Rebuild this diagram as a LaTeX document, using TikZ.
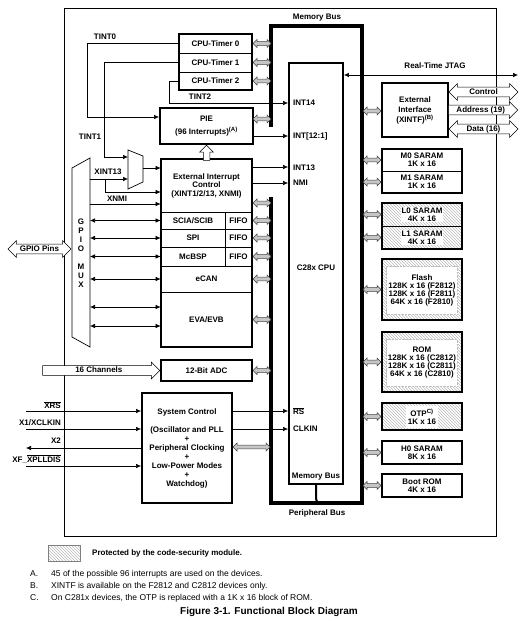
\documentclass[tikz,border=0pt]{standalone}
\usepackage{fontspec}
\setmainfont{Liberation Sans}
\usetikzlibrary{arrows.meta,shapes.arrows,patterns,calc}
\newcommand\ovl[1]{$\overline{\mbox{#1}}$}
\begin{document}
\begin{tikzpicture}[x=1pt,y=-1pt,
  every node/.style={font=\fontsize{8}{8}\selectfont\bfseries, inner sep=0pt},
  blk/.style={draw, line width=1.8pt, align=center},
  cell/.style={draw, line width=.7pt, align=center},
  bus/.style={line width=3.2pt},
  sig/.style={line width=.6pt, -{Latex[length=5pt,width=4.5pt]}},
  sigd/.style={line width=.6pt, {Latex[length=5pt,width=4.5pt]}-{Latex[length=5pt,width=4.5pt]}},
  busar/.style={double arrow, draw=black!75, fill=gray!45, line width=.5pt, minimum width=8pt, double arrow head extend=2pt, inner sep=1.7pt},
  hol/.style={draw, line width=.5pt, fill=white, inner xsep=1pt, inner ysep=1.2pt, text height=5.6pt, text depth=1.2pt},
  hatch/.style={pattern=north west lines, pattern color=gray!55},
  note/.style={font=\fontsize{8.5}{8.5}\selectfont, anchor=base west},
]
\useasboundingbox (0,0) rectangle (526,621);

% outer frame
\draw[line width=.7pt] (64,8) rectangle (496,536);

% buses
\draw[bus] (271,127) -- (271,26) -- (362,26) -- (362,503) -- (271,503) -- (271,197);
\node (mbl) at (317,18) {Memory Bus};
\node (pbl) at (317,513) {Peripheral Bus};

% CPU
\node[blk, minimum width=54pt, minimum height=421pt] (cpu) at (316,273.5) {};
\node[anchor=west] (lint14) at (293,103) {INT14};
\node[anchor=west] (lint121) at (293,136) {INT[12:1]};
\node[anchor=west] (lint13) at (293,168) {INT13};
\node[anchor=west] (lnmi) at (293,183) {NMI};
\node[anchor=west] (lrs) at (293,411) {\ovl{RS}};
\node[anchor=west] (lclk) at (293,429) {CLKIN};
\node (cpulbl) at (316,268) {C28x CPU};
\node (cpumb) at (316,477) {Memory Bus};
\draw[line width=2pt] (cpu.south) -- ++(0,14) -- ++(2,5);

% timers
\node[cell, minimum width=73pt, minimum height=19pt] (t0) at (215.5,43.5) {CPU-Timer 0};
\node[cell, minimum width=73pt, minimum height=19pt] (t1) at (215.5,62.5) {CPU-Timer 1};
\node[cell, minimum width=73pt, minimum height=18pt] (t2) at (215.5,81) {CPU-Timer 2};
\draw[line width=1.8pt] (t0.north west) rectangle (t2.south east);

% PIE
\node[blk, minimum width=93pt, minimum height=36pt] (pie) at (206.5,126) {PIE\\[5pt](96 Interrupts)\textsuperscript{(A)}};

% timer interrupt lines
\draw[sig] (t0.west) -- (87,43.5) -- (87,117) -- (pie.west |- 0,117);
\node (tint0) at (105,37) {TINT0};
\draw[sig] (t1.west) -- (104,62.5) -- (104,157) -- (128,157);
\node (tint1) at (90,137) {TINT1};
\draw[sig] (t2.west) -- (169,81) -- (169,103) -- (cpu.west |- 0,103);
\node (tint2) at (200,97) {TINT2};
\draw[sig] (pie.east |- 0,136) -- (cpu.west |- 0,136);

% peripherals
\node[cell, minimum width=91pt, minimum height=53pt, font=\fontsize{8}{8.5}\selectfont\bfseries] (extint) at (206.5,185.5) {External Interrupt\\Control\\(XINT1/2/13, XNMI)};
\node[cell, minimum width=64pt, minimum height=17pt] (sci) at (193,220.5) {SCIA/SCIB};
\node[cell, minimum width=27pt, minimum height=17pt] (scif) at (238.5,220.5) {FIFO};
\node[cell, minimum width=64pt, minimum height=18pt] (spi) at (193,238) {SPI};
\node[cell, minimum width=27pt, minimum height=18pt] (spif) at (238.5,238) {FIFO};
\node[cell, minimum width=64pt, minimum height=19pt] (mcbsp) at (193,256.5) {McBSP};
\node[cell, minimum width=27pt, minimum height=19pt] (mcbspf) at (238.5,256.5) {FIFO};
\node[cell, minimum width=91pt, minimum height=26pt] (ecan) at (206.5,279) {eCAN};
\node[cell, minimum width=91pt, minimum height=55pt] (eva) at (206.5,319.5) {EVA/EVB};
\draw[line width=1.8pt] (extint.north west) rectangle (eva.south east);

% hollow arrow ext int -> PIE
\node[single arrow, draw, line width=.5pt, fill=white, rotate=90, minimum height=15pt, minimum width=13pt, single arrow head extend=3.5pt, inner sep=3pt, anchor=tip] (uparr) at (pie.south) {};

% mux
\draw[line width=.7pt] (128,150) -- (143,156) -- (143,182) -- (128,189) -- cycle;
\coordinate (muxout) at (143,168);
\draw[sig] (muxout) -- (extint.west |- muxout);

% GPIO MUX
\draw[line width=.7pt] (72,168) -- (90,158) -- (90,347) -- (72,337) -- cycle;
\coordinate (gmr) at (90,250);
\node[align=center, font=\fontsize{8}{9}\selectfont\bfseries] (gmtxt) at (81,253) {G\\P\\I\\O\\[9pt]M\\U\\X};
\node[hol, double arrow, double arrow head extend=3.5pt, minimum height=63pt] (gpiopins) at (39.5,249) {GPIO Pins};

\draw[sig] (gmr |- 0,179) -- (128,179);
\draw[sig] (105,179) -- (105,192) -- (extint.west |- 0,192);
\node (xint13) at (108,172) {XINT13};
\draw[sig] (gmr |- 0,204) -- (extint.west |- 0,204);
\node (xnmi) at (117,199) {XNMI};

\draw[sigd] (gmr |- sci.west) -- (sci.west);
\draw[sigd] (gmr |- spi.west) -- (spi.west);
\draw[sigd] (gmr |- mcbsp.west) -- (mcbsp.west);
\draw[sigd] (gmr |- ecan.west) -- (ecan.west);
\draw[sigd] (gmr |- 0,307) -- (eva.west |- 0,307);
\draw[sigd] (gmr |- 0,326) -- (eva.west |- 0,326);

% ext int -> CPU
\draw[sig] (extint.east |- 0,167) -- (cpu.west |- 0,167);
\draw[sig] (extint.east |- 0,183) -- (cpu.west |- 0,183);

% ADC
\node[blk, minimum width=91pt, minimum height=21pt] (adc) at (206.5,370.5) {12-Bit ADC};
\node[hol, single arrow, single arrow head extend=3.5pt, minimum height=117pt, anchor=tip] (ch16) at (adc.west) {16 Channels};

% system control
\node[blk, minimum width=90pt, minimum height=110pt, font=\fontsize{8}{9}\selectfont\bfseries] (sys) at (187,448) {System Control\\[9pt](Oscillator and PLL\\+\\Peripheral Clocking\\+\\Low-Power Modes\\+\\Watchdog)};
\coordinate (xrs) at (26,411);
\coordinate (xclk) at (26,429);
\coordinate (xtwo) at (26,448);
\coordinate (xf) at (26,466);
\draw[sig] (xrs) -- (sys.west |- xrs);
\draw[sig] (xclk) -- (sys.west |- xclk);
\draw[sig] (sys.west |- xtwo) -- (xtwo);
\draw[sig] (xf) -- (sys.west |- xf);
\node[anchor=east] (lxrs) at (61,405) {\ovl{XRS}};
\node[anchor=east] (lxclk) at (61,423) {X1/XCLKIN};
\node[anchor=east] (lx2) at (61,441) {X2};
\node[anchor=east] (lxf) at (61,459) {XF\_\ovl{XPLLDIS}};
\draw[sig] (sys.east |- 0,411) -- (cpu.west |- 0,411);
\draw[sig] (sys.east |- 0,429) -- (cpu.west |- 0,429);

% peripheral-side bus arrows
\node[busar, minimum height=18pt] (gt0) at (262,43.5) {};
\node[busar, minimum height=18pt] (gt1) at (262,62.5) {};
\node[busar, minimum height=18pt] (gt2) at (262,81) {};
\node[busar, minimum height=18pt] (gpie) at (262,119) {};
\node[busar, minimum height=18pt] (gext) at (262,203) {};
\node[busar, minimum height=18pt] (gsci) at (262,220.5) {};
\node[busar, minimum height=18pt] (gspi) at (262,238) {};
\node[busar, minimum height=18pt] (gmcb) at (262,256.5) {};
\node[busar, minimum height=18pt] (gecan) at (262,279) {};
\node[busar, minimum height=18pt] (geva) at (262,319.5) {};
\node[busar, minimum height=18pt] (gadc) at (262,370.5) {};
\node[busar, minimum height=37pt] (gsys) at (251.5,447) {};

% JTAG
\coordinate (jtagend) at (518,75);
\draw[sigd] (cpu.east |- jtagend) -- (jtagend);
\node (jtag) at (435,66) {Real-Time JTAG};

% external interface
\node[blk, minimum width=66pt, minimum height=54pt, font=\fontsize{8}{10}\selectfont\bfseries] (extif) at (415,110) {External\\Interface\\(XINTF)\textsuperscript{(B)}};
\node[hol, double arrow, double arrow head extend=3.5pt, minimum height=69pt] (ctrl) at (483.5,92) {Control};
\node[hol, single arrow, single arrow head extend=3.5pt, minimum height=69pt, anchor=tip] (addr) at (518,110) {Address (19)};
\node[hol, double arrow, double arrow head extend=3.5pt, minimum height=69pt] (data) at (483.5,129) {Data (16)};

% memories
\node[cell, minimum width=80pt, minimum height=22pt] (m0) at (422,160) {M0 SARAM\\1K x 16};
\node[cell, minimum width=80pt, minimum height=22pt] (m1) at (422,182) {M1 SARAM\\1K x 16};
\draw[line width=1.8pt] (m0.north west) rectangle (m1.south east);

\node[cell, hatch, minimum width=80pt, minimum height=23pt] (l0) at (422,214.5) {};
\node[cell, hatch, minimum width=80pt, minimum height=23pt] (l1) at (422,237.5) {};
\draw[line width=1.8pt] (l0.north west) rectangle (l1.south east);
\node[fill=white, inner sep=.6pt, align=center] (l0t) at (l0) {L0 SARAM\\4K x 16};
\node[fill=white, inner sep=.6pt, align=center] (l1t) at (l1) {L1 SARAM\\4K x 16};

\node[blk, hatch, minimum width=80pt, minimum height=61pt] (flash) at (422,289.5) {};
\node[fill=white, draw=gray!50, densely dotted, line width=.4pt, minimum width=71pt, minimum height=48pt, align=center] (flasht) at (422,290.5) {Flash\\128K x 16 (F2812)\\128K x 16 (F2811)\\64K x 16 (F2810)};

\node[blk, hatch, minimum width=80pt, minimum height=60pt] (rom) at (422,362) {};
\node[fill=white, draw=gray!50, densely dotted, line width=.4pt, minimum width=71pt, minimum height=47pt, align=center] (romt) at (422,363) {ROM\\128K x 16 (C2812)\\128K x 16 (C2811)\\64K x 16 (C2810)};

\node[blk, hatch, minimum width=80pt, minimum height=27pt] (otp) at (422,416.5) {};
\node[fill=white, minimum width=32pt, minimum height=22pt, align=center] (otpt) at (422,416.5) {OTP\textsuperscript{C)}\\1K x 16};

\node[blk, minimum width=80pt, minimum height=23pt] (h0) at (422,452.5) {H0 SARAM\\8K x 16};
\node[blk, minimum width=80pt, minimum height=23pt] (boot) at (422,485.5) {Boot ROM\\4K x 16};

% memory-side bus arrows
\node[busar, minimum height=18pt] (gxif) at (372,111) {};
\node[busar, minimum height=18pt] (gm0) at (372,160) {};
\node[busar, minimum height=18pt] (gm1) at (372,182) {};
\node[busar, minimum height=18pt] (gl0) at (372,214.5) {};
\node[busar, minimum height=18pt] (gl1) at (372,237.5) {};
\node[busar, minimum height=18pt] (gfl) at (372,289.5) {};
\node[busar, minimum height=18pt] (grom) at (372,362) {};
\node[busar, minimum height=18pt] (gotp) at (372,416.5) {};
\node[busar, minimum height=18pt] (gh0) at (372,452.5) {};
\node[busar, minimum height=18pt] (gboot) at (372,485.5) {};

% legend and notes
\node[draw=gray, line width=.5pt, hatch, minimum width=32pt, minimum height=16pt] (legend) at (64,553) {};
\node[anchor=west] (legtxt) at (92,553) {Protected by the code-security module.};
\node[note] (na) at (30,576) {A.};
\node[note] (nat) at (51,576) {45 of the possible 96 interrupts are used on the devices.};
\node[note] (nb) at (30,588) {B.};
\node[note] (nbt) at (51,588) {XINTF is available on the F2812 and C2812 devices only.};
\node[note] (nc) at (30,600) {C.};
\node[note] (nct) at (51,600) {On C281x devices, the OTP is replaced with a 1K x 16 block of ROM.};
\node[font=\fontsize{10}{10}\selectfont\bfseries] (cap) at (269,612) {Figure 3-1. Functional Block Diagram};
\end{tikzpicture}
\end{document}
